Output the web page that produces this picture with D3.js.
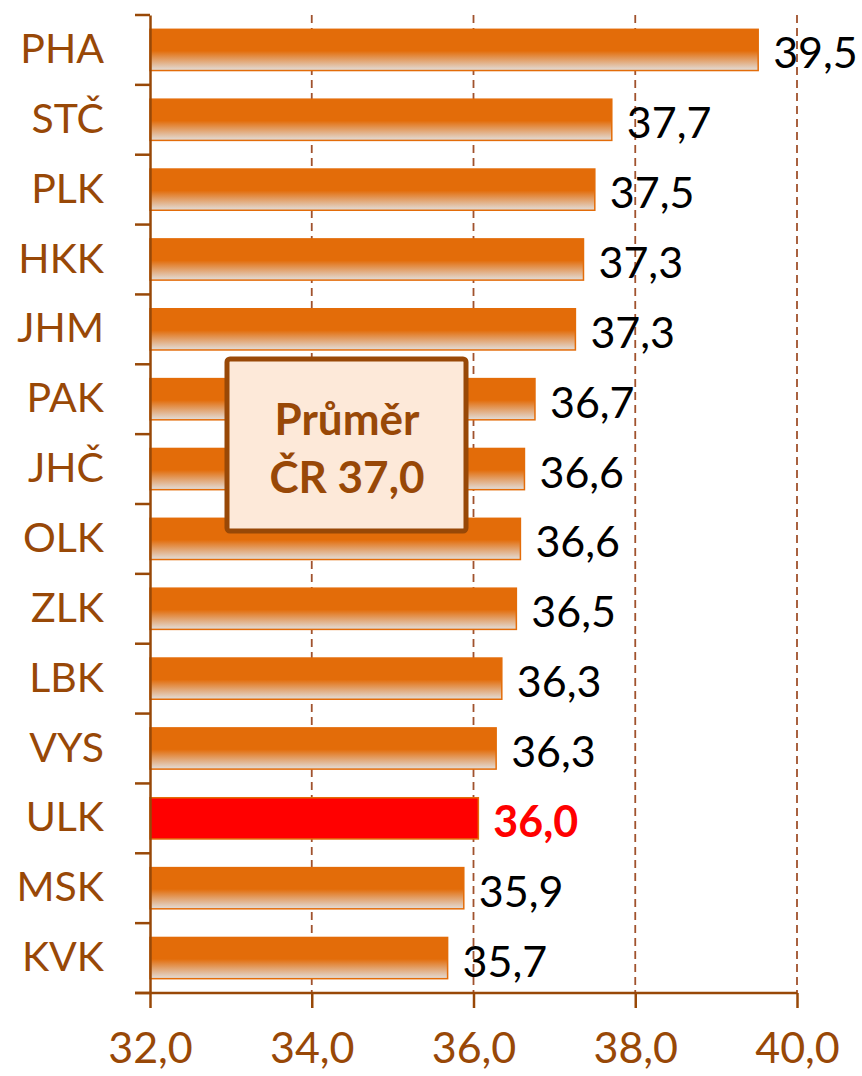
<!DOCTYPE html>
<html>
<head>
<meta charset="utf-8">
<script src="https://cdn.jsdelivr.net/npm/d3@7"></script>
<style>
body { margin: 0; background: #fff; }
svg text { font-family: Lato, "Open Sans", sans-serif; }
</style>
</head>
<body>
<div id="c"></div>
<script>
// regions, bar lengths and printed labels
var regions = ['PHA', 'STČ', 'PLK', 'HKK', 'JHM', 'PAK', 'JHČ', 'OLK', 'ZLK', 'LBK', 'VYS', 'ULK', 'MSK', 'KVK'];
var values = [39.52, 37.71, 37.50, 37.36, 37.26, 36.76, 36.63, 36.58, 36.53, 36.35, 36.28, 36.06, 35.88, 35.68];
var valueLabels = ['39,5', '37,7', '37,5', '37,3', '37,3', '36,7', '36,6', '36,6', '36,5', '36,3', '36,3', '36,0', '35,9', '35,7'];
var highlight = 'ULK';
var xTicks = [32, 34, 36, 38, 40];
var avgLines = ['Průměr', 'ČR 37,0'];

var width = 862, height = 1076;
var brown = '#984807';
var orange = '#E36C09';

var svg = d3.select('#c').append('svg')
	.attr('width', width)
	.attr('height', height);

var defs = svg.append('defs');
var grad = defs.append('linearGradient')
	.attr('id', 'barGrad')
	.attr('x1', 0).attr('y1', 0).attr('x2', 0).attr('y2', 1);
grad.append('stop').attr('offset', '0%').attr('stop-color', orange);
grad.append('stop').attr('offset', '52%').attr('stop-color', orange);
grad.append('stop').attr('offset', '100%').attr('stop-color', '#e2dedb');

var x = d3.scaleLinear()
	.domain([32, 40])
	.range([150, 797]);

var y = d3.scaleBand()
	.domain(regions)
	.range([15, 993])
	.paddingInner(0.41)
	.paddingOuter(0.205);

// dashed gridlines
svg.append('g')
	.selectAll('line')
	.data(xTicks.slice(1))
	.enter()
	.append('line')
	.attr('x1', function(d) { return x(d); })
	.attr('x2', function(d) { return x(d); })
	.attr('y1', 15)
	.attr('y2', 993)
	.attr('stroke', '#a0522d')
	.attr('stroke-width', 1.8)
	.attr('stroke-dasharray', '8,5');

// bars
svg.append('g')
	.selectAll('rect')
	.data(regions)
	.enter()
	.append('rect')
	.attr('x', x(32))
	.attr('y', function(d) { return y(d); })
	.attr('width', function(d, i) { return x(values[i]) - x(32); })
	.attr('height', y.bandwidth())
	.attr('fill', function(d) { return d == highlight ? '#FF0000' : 'url(#barGrad)'; })
	.attr('stroke', orange)
	.attr('stroke-width', 1.5);

// value labels
svg.append('g')
	.selectAll('text')
	.data(regions)
	.enter()
	.append('text')
	.attr('x', function(d, i) { return x(values[i]) + 15; })
	.attr('y', function(d) { return y(d) + y.bandwidth() / 2 + 2; })
	.attr('dominant-baseline', 'central')
	.attr('font-size', 43)
	.attr('font-weight', function(d) { return d == highlight ? 'bold' : 'normal'; })
	.attr('fill', function(d) { return d == highlight ? '#FF0000' : '#000'; })
	.text(function(d, i) { return valueLabels[i]; });

// y axis
var yAxis = svg.append('g')
	.attr('transform', 'translate(150,0)')
	.call(d3.axisLeft(y).tickSize(0).tickPadding(46));
yAxis.select('.domain').attr('stroke', brown).attr('stroke-width', 2.5);
yAxis.selectAll('text')
	.attr('font-size', 41)
	.attr('fill', brown)
	.attr('font-family', 'Lato, sans-serif');

// y ticks sit between categories
var yBounds = d3.range(regions.length + 1).map(function(i) { return 15 + i * (993 - 15) / regions.length; });
yAxis.selectAll('.bound')
	.data(yBounds)
	.enter()
	.append('line')
	.attr('x1', -15).attr('x2', 0)
	.attr('y1', function(d) { return d; })
	.attr('y2', function(d) { return d; })
	.attr('stroke', brown)
	.attr('stroke-width', 2.5);

// x axis
var xAxis = svg.append('g')
	.attr('transform', 'translate(0,993)')
	.call(d3.axisBottom(x)
		.tickValues(xTicks)
		.tickSize(15)
		.tickPadding(24)
		.tickSizeOuter(0)
		.tickFormat(function(d) { return d3.format('.1f')(d).replace('.', ','); }));
xAxis.select('.domain').attr('d', 'M135,0H797').attr('stroke', brown).attr('stroke-width', 2.5);
xAxis.selectAll('.tick line').attr('stroke', brown).attr('stroke-width', 2.5);
xAxis.selectAll('text')
	.attr('font-size', 43)
	.attr('fill', brown)
	.attr('font-family', 'Lato, sans-serif');

// average box
var box = svg.append('g');
box.append('rect')
	.attr('x', 227).attr('y', 359)
	.attr('width', 239).attr('height', 172)
	.attr('rx', 3)
	.attr('fill', '#FDE9D9')
	.attr('stroke', brown)
	.attr('stroke-width', 5);
box.selectAll('text')
	.data(avgLines)
	.enter()
	.append('text')
	.attr('x', 347)
	.attr('y', function(d, i) { return 418 + i * 58; })
	.attr('text-anchor', 'middle')
	.attr('dominant-baseline', 'central')
	.attr('font-size', 44)
	.attr('font-weight', 'bold')
	.attr('fill', brown)
	.text(function(d) { return d; });
</script>
</body>
</html>
